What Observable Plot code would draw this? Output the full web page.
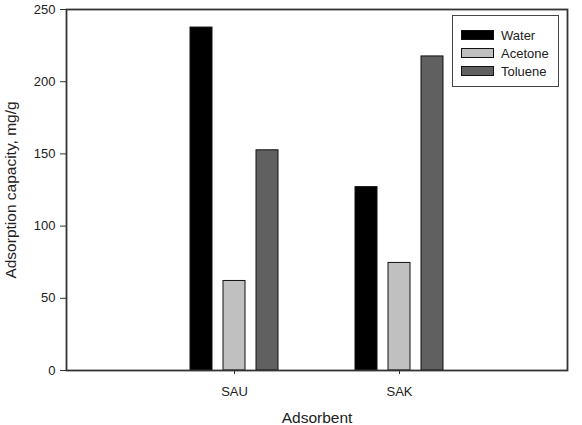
<!DOCTYPE html>
<html>
<head>
<meta charset="utf-8">
<script src="https://cdn.jsdelivr.net/npm/d3@7"></script>
<script src="https://cdn.jsdelivr.net/npm/@observablehq/plot@0.6"></script>
<style>
  body { margin: 0; background: #fff; }
  #wrap { position: relative; width: 582px; height: 425px; overflow: hidden; font-family: "Liberation Sans", Arial, sans-serif; }
  #legend { position: absolute; left: 452px; top: 15px; width: 105px; height: 70px; border: 1.5px solid #444; background: #fff; box-sizing: content-box; }
  .row { position: absolute; left: 8px; height: 12px; display: flex; align-items: center; font-size: 13px; color: #222; }
  .sw { width: 31px; height: 8px; border: 1px solid #111; margin-right: 7px; }
</style>
</head>
<body>
<div id="wrap"></div>
<script>
const groups = ["SAU", "SAK"];
const solvents = ["Water", "Acetone", "Toluene"];
const water = [237.5, 127];
const acetone = [62, 74.5];
const toluene = [152.5, 217.5];
const colors = ["#000000", "#c0c0c0", "#606060"];
const yTicks = [0, 50, 100, 150, 200, 250];

const series = [water, acetone, toluene];
const key = (g, s) => g + "|" + s;
const data = groups.flatMap((g, i) => solvents.map((s, j) => ({key: key(g, s), group: g, solvent: s, value: series[j][i]})));
// band domain: each group's three bars, with two empty slots between groups
const xDomain = groups.flatMap((g, i) => [
  ...(i > 0 ? ["gap" + i + "a", "gap" + i + "b"] : []),
  ...solvents.map(s => key(g, s))
]);
const groupTicks = groups.map(g => key(g, solvents[1]));

const chart = Plot.plot({
  width: 582,
  height: 425,
  marginLeft: 66,
  marginRight: 15,
  marginTop: 9,
  marginBottom: 55,
  style: {fontFamily: "Liberation Sans, Arial, sans-serif", fontSize: "13px", color: "#222", background: "#fff"},
  x: {domain: xDomain, paddingInner: 0.34, paddingOuter: 3.66},
  y: {domain: [0, 250]},
  color: {domain: solvents, range: colors},
  marks: [
    Plot.barY(data, {x: "key", y: "value", fill: "solvent", stroke: "#111", strokeWidth: 1}),
    Plot.frame({stroke: "#333", strokeWidth: 1.8}),
    Plot.axisY({ticks: yTicks, tickSize: 6, tickPadding: 5, stroke: "#333",
      label: "Adsorption capacity, mg/g", labelAnchor: "center", labelOffset: 62, labelArrow: "none"}),
    Plot.axisX({ticks: groupTicks, tickFormat: d => d.split("|")[0], tickSize: 4, tickPadding: 12, stroke: "#333",
      label: "Adsorbent", labelAnchor: "center", labelOffset: 52, labelArrow: "none"})
  ]
});
document.getElementById("wrap").appendChild(chart);

// axis title size
chart.querySelectorAll("[aria-label='y-axis label'] text, [aria-label='x-axis label'] text").forEach(t => {
  t.style.fontSize = "15.5px";
});

// legend
const legend = document.createElement("div");
legend.id = "legend";
solvents.forEach((s, i) => {
  const row = document.createElement("div");
  row.className = "row";
  row.style.top = (13 + i * 18) + "px";
  const sw = document.createElement("div");
  sw.className = "sw";
  sw.style.background = colors[i];
  const lab = document.createElement("span");
  lab.textContent = s;
  row.appendChild(sw);
  row.appendChild(lab);
  legend.appendChild(row);
});
document.getElementById("wrap").appendChild(legend);
</script>
</body>
</html>
